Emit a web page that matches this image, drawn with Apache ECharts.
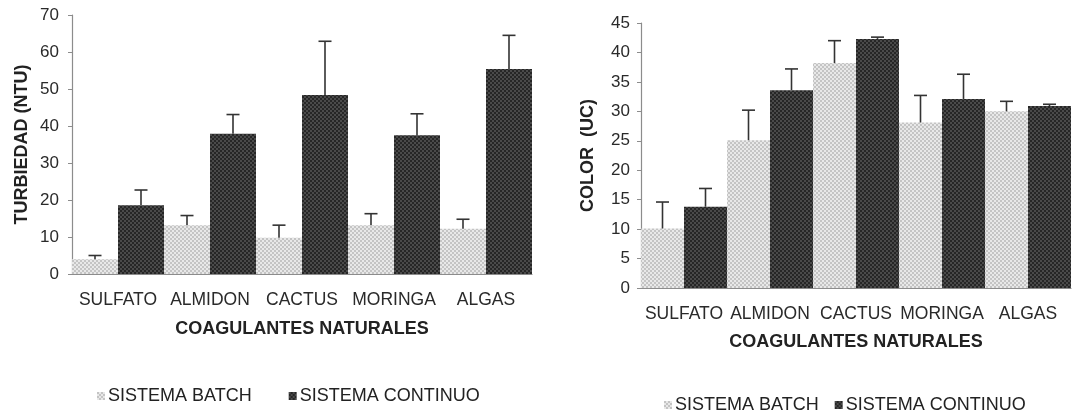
<!DOCTYPE html>
<html>
<head>
<meta charset="utf-8">
<script src="https://cdn.jsdelivr.net/npm/echarts@6/dist/echarts.min.js"></script>
<style>
  html, body { margin: 0; padding: 0; background: #fff; }
  #chart { width: 1078px; height: 412px; }
</style>
</head>
<body>
<div id="chart"></div>
<script>
// Coagulant categories
const categories = ['SULFATO', 'ALMIDON', 'CACTUS', 'MORINGA', 'ALGAS'];
const seriesNames = ['SISTEMA BATCH', 'SISTEMA CONTINUO'];

// Turbidity (NTU): means and upper error
const turbBatch = [4.0, 13.2, 9.8, 13.2, 12.2];
const turbBatchErr = [1.0, 2.6, 3.4, 3.1, 2.6];
const turbCont = [18.6, 37.9, 48.4, 37.5, 55.4];
const turbContErr = [4.1, 5.2, 14.5, 5.8, 9.1];

// Colour (UC): means and upper error
const colBatch = [10.1, 25.1, 38.2, 28.1, 30.0];
const colBatchErr = [4.5, 5.1, 3.8, 4.6, 1.7];
const colCont = [13.8, 33.6, 42.3, 32.1, 30.9];
const colContErr = [3.1, 3.6, 0.3, 4.2, 0.3];

// Axis ticks
const turbTicks = { min: 0, max: 70, interval: 10 };
const colTicks = { min: 0, max: 45, interval: 5 };

const FONT = "'Liberation Sans', Arial, sans-serif";

// Small checkerboard tiles used as bar fills
function checker(a, b) {
  const c = document.createElement('canvas');
  c.width = 4; c.height = 4;
  const g = c.getContext('2d');
  g.fillStyle = a; g.fillRect(0, 0, 4, 4);
  g.fillStyle = b; g.fillRect(0, 0, 2, 2); g.fillRect(2, 2, 2, 2);
  return { image: c, repeat: 'repeat' };
}
const lightFill = checker('#e8e8e8', '#c4c4c4');
const darkFill = checker('#262626', '#4a4a4a');

function errSeries(idx, means, errs, offset) {
  return {
    type: 'custom',
    xAxisIndex: idx, yAxisIndex: idx,
    z: 5,
    silent: true,
    data: means.map((v, i) => [i, v, errs[i]]),
    renderItem: function (params, api) {
      const i = api.value(0), v = api.value(1), e = api.value(2);
      const band = api.size([1, 0])[0];
      const base = api.coord([i, v]);
      const cx = base[0] + offset * band / 4;
      const yTop = api.coord([i, v + e])[1];
      const st = { stroke: '#333', lineWidth: 1.6 };
      return {
        type: 'group',
        children: [
          { type: 'line', shape: { x1: cx, y1: base[1], x2: cx, y2: yTop }, style: st },
          { type: 'line', shape: { x1: cx - 6.5, y1: yTop, x2: cx + 6.5, y2: yTop }, style: st }
        ]
      };
    }
  };
}

function barSeries(idx, name, data, fill) {
  return {
    type: 'bar', name: name,
    xAxisIndex: idx, yAxisIndex: idx,
    data: data,
    barGap: '0%', barCategoryGap: '0%',
    itemStyle: { color: fill },
    emphasis: { disabled: true }
  };
}

const axisLineStyle = { lineStyle: { color: '#8c8c8c', width: 1.2 } };

function xAxis(idx, margin, nameGap) {
  return {
    type: 'category', gridIndex: idx, data: categories,
    axisLine: axisLineStyle,
    axisTick: { show: false },
    axisLabel: { color: '#2a2a2a', fontSize: 17.5, fontFamily: FONT, margin: margin, interval: 0 },
    name: 'COAGULANTES NATURALES', nameLocation: 'middle', nameGap: nameGap,
    nameTextStyle: { color: '#222', fontSize: 18, fontWeight: 'bold', fontFamily: FONT }
  };
}

function yAxis(idx, ticks, name, nameGap, labelMargin) {
  return {
    type: 'value', gridIndex: idx,
    min: ticks.min, max: ticks.max, interval: ticks.interval,
    axisLine: { show: true, lineStyle: { color: '#8c8c8c', width: 1.2 } },
    axisTick: { show: true, inside: false, length: 4, lineStyle: { color: '#8c8c8c' } },
    splitLine: { show: false },
    axisLabel: { color: '#2a2a2a', fontSize: 17, fontFamily: FONT, margin: labelMargin },
    name: name, nameLocation: 'middle', nameRotate: 90, nameGap: nameGap,
    nameTextStyle: { color: '#222', fontSize: 18, fontWeight: 'bold', fontFamily: FONT }
  };
}

function legend(left, top, gap) {
  return {
    left: left, top: top,
    data: seriesNames,
    icon: 'rect',
    itemWidth: 8, itemHeight: 8, itemGap: gap,
    textStyle: { color: '#222', fontSize: 18, fontFamily: FONT, padding: [0, 0, 0, -2] },
    selectedMode: false
  };
}

const chart = echarts.init(document.getElementById('chart'), null, { renderer: 'canvas' });
chart.setOption({
  animation: false,
  backgroundColor: '#fff',
  grid: [
    { left: 72, top: 15, width: 460, height: 259 },
    { left: 641, top: 23, width: 430, height: 265 }
  ],
  xAxis: [xAxis(0, 17, 46), xAxis(1, 17, 45)],
  yAxis: [
    yAxis(0, turbTicks, 'TURBIEDAD (NTU)', 41, 13),
    yAxis(1, colTicks, 'COLOR  (UC)', 44, 11)
  ],
  legend: [legend(92, 382, 37), legend(659, 391, 16)],
  series: [
    barSeries(0, seriesNames[0], turbBatch, lightFill),
    barSeries(0, seriesNames[1], turbCont, darkFill),
    errSeries(0, turbBatch, turbBatchErr, -1),
    errSeries(0, turbCont, turbContErr, 1),
    barSeries(1, seriesNames[0], colBatch, lightFill),
    barSeries(1, seriesNames[1], colCont, darkFill),
    errSeries(1, colBatch, colBatchErr, -1),
    errSeries(1, colCont, colContErr, 1)
  ]
});
</script>
</body>
</html>
